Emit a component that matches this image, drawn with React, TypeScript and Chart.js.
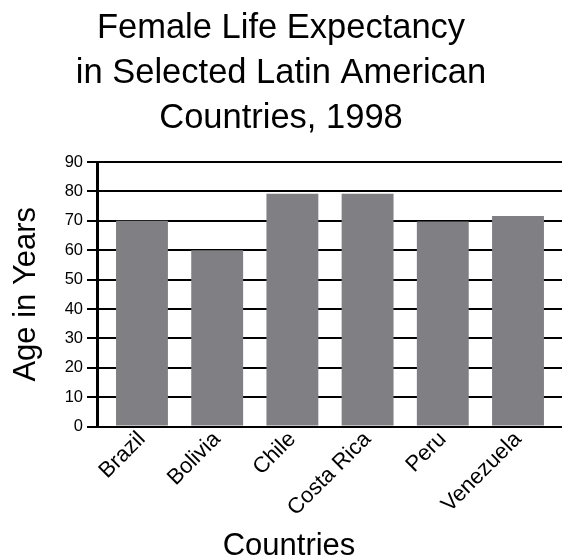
import React, { useEffect, useRef } from "react";
import { Chart, registerables } from "chart.js";

Chart.register(...registerables);

const titleLines = ["Female Life Expectancy", "in Selected Latin American", "Countries, 1998"];
const categories = ["Brazil", "Bolivia", "Chile", "Costa Rica", "Peru", "Venezuela"];
const values = [70, 60, 79.2, 79.2, 69.8, 71.6];
const yTicks = { min: 0, max: 90, step: 10 };
const xTitle = "Countries";
const yTitle = "Age in Years";

const FONT = "'Liberation Sans', Arial, Helvetica, sans-serif";

const xTitlePlugin = {
  id: "xTitleText",
  afterDraw(chart: any) {
    const ctx = chart.ctx;
    ctx.save();
    ctx.font = `31px ${FONT}`;
    ctx.fillStyle = "#000";
    ctx.textAlign = "center";
    ctx.textBaseline = "alphabetic";
    ctx.fillText(xTitle, 289, 555);
    ctx.restore();
  },
};

export default function App() {
  const ref = useRef<HTMLCanvasElement | null>(null);

  useEffect(() => {
    document.body.style.margin = "0";
    const canvas = ref.current;
    if (!canvas) return;
    const chart = new Chart(canvas, {
      type: "bar",
      data: {
        datasets: [
          {
            data: categories.map((c, i) => ({ x: i, y: values[i] })),
            backgroundColor: "#808084",
            borderWidth: 0,
            barPercentage: 0.69,
            categoryPercentage: 1,
          },
        ],
      },
      plugins: [xTitlePlugin],
      options: {
        responsive: false,
        animation: false,
        layout: { padding: 0 },
        plugins: {
          legend: { display: false },
          tooltip: { enabled: false },
          title: {
            display: true,
            text: titleLines,
            color: "#000",
            font: { family: FONT, size: 34.5, weight: "normal", lineHeight: 1.3 },
            padding: { top: 6, bottom: 21.5 },
          },
        },
        scales: {
          x: {
            type: "linear",
            min: -0.598,
            max: 5.585,
            offset: false,
            grid: { display: false, drawTicks: false },
            border: { display: false },
            afterBuildTicks: (scale: any) => {
              scale.ticks = categories.map((_, i) => ({ value: i }));
            },
            afterFit: (scale: any) => {
              scale.height = 133.5;
            },
            ticks: {
              autoSkip: false,
              minRotation: 45,
              maxRotation: 45,
              padding: 0,
              color: "#000",
              font: { family: FONT, size: 22 },
              callback: (value: any) => categories[Math.round(Number(value))] ?? "",
            },
            title: { display: false, text: xTitle },
          },
          y: {
            min: yTicks.min,
            max: yTicks.max,
            afterFit: (scale: any) => {
              scale.width = 97;
            },
            ticks: {
              stepSize: yTicks.step,
              padding: 4,
              color: "#000",
              font: { family: FONT, size: 16.5 },
            },
            grid: { color: "#000", lineWidth: 2, tickLength: 10, drawTicks: true },
            border: { display: true, color: "#000", width: 3 },
            title: {
              display: true,
              text: yTitle,
              color: "#000",
              font: { family: FONT, size: 31, lineHeight: 1 },
              padding: { top: 11, bottom: 0 },
            },
          },
        },
      },
    });
    return () => chart.destroy();
  }, []);

  return (
    <div style={{ width: 562, height: 560 }}>
      <canvas ref={ref} width={562} height={560} />
    </div>
  );
}
